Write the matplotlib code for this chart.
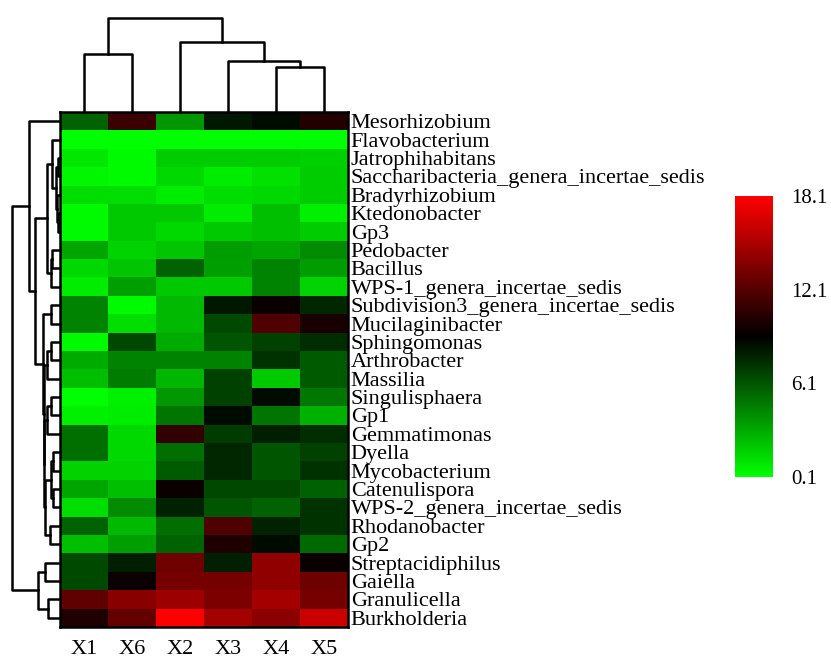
import matplotlib
matplotlib.use("Agg")
import matplotlib.pyplot as plt
from matplotlib.colors import LinearSegmentedColormap
import numpy as np

taxa = ["Mesorhizobium", "Flavobacterium", "Jatrophihabitans",
        "Saccharibacteria_genera_incertae_sedis", "Bradyrhizobium",
        "Ktedonobacter", "Gp3", "Pedobacter", "Bacillus",
        "WPS-1_genera_incertae_sedis", "Subdivision3_genera_incertae_sedis",
        "Mucilaginibacter", "Sphingomonas", "Arthrobacter", "Massilia",
        "Singulisphaera", "Gp1", "Gemmatimonas", "Dyella", "Mycobacterium",
        "Catenulispora", "WPS-2_genera_incertae_sedis", "Rhodanobacter",
        "Gp2", "Streptacidiphilus", "Gaiella", "Granulicella", "Burkholderia"]
samples = ["X1", "X6", "X2", "X3", "X4", "X5"]

x1 = [5.6, 0.1, 1.0, 0.4, 1.3, 0.3, 0.3, 3.3, 1.5, 0.8, 4.5, 4.5, 0.3, 3.1,
      2.4, 0.1, 0.6, 5.2, 5.2, 1.7, 3.3, 1.3, 5.6, 2.4, 6.5, 6.5, 12.5, 10.2]
x6 = [11.2, 0.1, 0.3, 0.3, 1.3, 2.0, 2.0, 1.7, 2.2, 3.5, 0.3, 1.3, 6.6, 4.5,
      4.7, 0.6, 0.8, 1.5, 1.5, 1.7, 2.4, 4.2, 2.6, 3.5, 8.0, 9.5, 13.9, 12.6]
x2 = [3.8, 0.1, 1.9, 1.5, 0.8, 2.0, 1.5, 2.2, 5.6, 2.0, 2.6, 2.6, 3.1, 4.5,
      2.7, 3.8, 5.0, 10.9, 5.2, 5.9, 9.5, 7.9, 5.2, 5.6, 13.0, 13.2, 14.6, 18.1]
x3 = [8.2, 0.1, 1.9, 0.8, 1.3, 0.8, 2.0, 3.6, 3.5, 2.0, 8.2, 6.5, 6.1, 4.5,
      6.8, 6.8, 8.7, 7.0, 7.7, 7.7, 6.6, 6.1, 11.9, 10.2, 8.0, 13.2, 13.5, 14.8]
x4 = [8.7, 0.1, 1.9, 1.2, 1.5, 2.4, 2.4, 3.3, 4.5, 4.5, 9.5, 11.9, 6.8, 7.3,
      2.0, 8.7, 5.0, 8.0, 6.1, 6.1, 6.6, 5.6, 7.9, 8.7, 14.2, 14.2, 14.9, 14.0]
x5 = [10.3, 0.1, 1.8, 1.9, 1.9, 0.6, 1.9, 4.2, 3.6, 1.7, 7.7, 10.0, 7.5, 5.9,
      5.9, 4.9, 2.9, 7.5, 6.8, 7.3, 5.7, 7.3, 7.3, 5.4, 9.5, 13.0, 13.2, 16.2]

# merge trees: (height, left, right), ints are leaf positions
row_tree = (48.0,
            (30.7, 0,
             (25.0,
              (13.3,
               (7.7, 1, (4.5, (2.5, 2, 3), (3.5, 4, (2.5, 5, 6)))),
               (9.5, (8.0, 7, 8), 9)),
              (17.3, (9.3, 10, 11),
               (16.5, (13.3, (9.3, 12, 13), 14),
                (16.0, (13.3, (9.3, 15, 16), 17),
                 (15.0, (9.3, (6.7, 18, 19), (6.7, 20, 21)), (10.0, 22, 23))))))),
            (22.0, (15.0, 24, 25), (12.0, 26, 27)))
col_tree = (93.7, (58.0, 0, 1), (70.0, 2, (51.3, 3, (45.3, 4, 5))))

plt.rcParams['font.family'] = ['Liberation Serif', 'DejaVu Serif']

W, H = 831, 657
fig = plt.figure(figsize=(W / 100, H / 100), dpi=100)


def box(l, t, r, b):
    return [l / W, 1 - b / H, (r - l) / W, (b - t) / H]


gbr = LinearSegmentedColormap.from_list("gbr", ["#00ff00", "#000000", "#ff0000"])
vmin, vmax = 0.1, 18.1
data = np.column_stack([x1, x6, x2, x3, x4, x5])
fs = 16

ax = fig.add_axes(box(60, 112, 348, 627))
ax.imshow(data, cmap=gbr, vmin=vmin, vmax=vmax, aspect="auto",
          interpolation="nearest")
ax.set_xticks(range(len(samples)))
ax.set_xticklabels(samples, fontsize=fs)
ax.set_yticks(range(len(taxa)))
ax.set_yticklabels(taxa, fontsize=fs)
ax.yaxis.tick_right()
ax.tick_params(axis="y", length=0, pad=2)
ax.tick_params(axis="x", length=0, pad=9)
for s in ax.spines.values():
    s.set_linewidth(1.8)


def link(dax, node, vertical):
    if isinstance(node, int):
        return float(node), 0.0
    h, a, b = node
    pa, ha = link(dax, a, vertical)
    pb, hb = link(dax, b, vertical)
    pos = [pa, pa, pb, pb]
    hts = [ha, h, h, hb]
    if vertical:
        dax.plot(pos, hts, color="black", lw=1.8, clip_on=False)
    else:
        dax.plot(hts, pos, color="black", lw=1.8, clip_on=False)
    return (pa + pb) / 2, h


# column dendrogram on top
cax = fig.add_axes(box(60, 18.3, 348, 112))
link(cax, col_tree, True)
cax.set_xlim(-0.5, len(samples) - 0.5)
cax.set_ylim(0, col_tree[0])
cax.axis("off")

# row dendrogram on the left
rax = fig.add_axes(box(12, 112, 60, 627))
link(rax, row_tree, False)
rax.set_ylim(len(taxa) - 0.5, -0.5)
rax.set_xlim(row_tree[0], 0)
rax.axis("off")

# colour key
kax = fig.add_axes(box(735, 196, 773, 477))
grad = np.linspace(vmin, vmax, 256).reshape(-1, 1)
kax.imshow(grad, cmap=gbr, vmin=vmin, vmax=vmax, aspect="auto",
           origin="lower", extent=[0, 1, vmin, vmax])
kax.set_xticks([])
kax.yaxis.tick_right()
kax.set_yticks([0.1, 6.1, 12.1, 18.1])
kax.set_yticklabels(["0.1", "6.1", "12.1", "18.1"], fontsize=15)
kax.tick_params(axis="y", length=0, pad=13)
for s in kax.spines.values():
    s.set_visible(False)

fig.savefig("out.png", dpi=100)
